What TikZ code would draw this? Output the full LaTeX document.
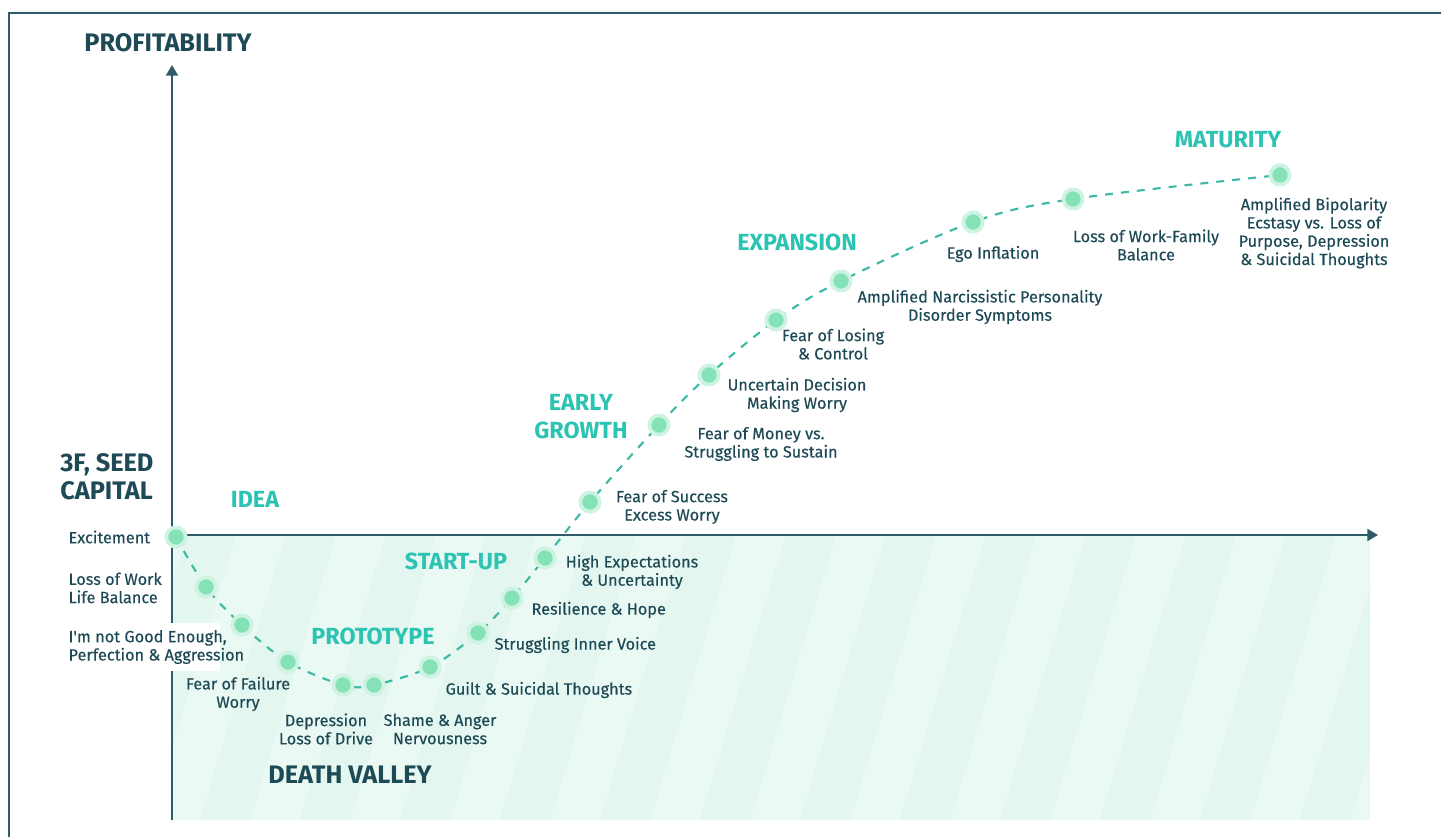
\documentclass[tikz,border=0pt]{standalone}
\usepackage{fontspec}
\setmainfont{Fira Sans}
\newfontfamily\vcbody{Fira Sans}[FakeBold=0.35]
\usepackage{xcolor}
\definecolor{vcink}{HTML}{1E4A56}
\definecolor{vcframe}{HTML}{2E5C68}
\definecolor{vcteal}{HTML}{2CC3B3}
\definecolor{vcdot}{HTML}{84E2B6}
\definecolor{vccurve}{HTML}{3DB9A6}
\definecolor{vcvalley}{HTML}{EAF9F4}
\definecolor{vcstripe}{HTML}{E3F6EF}
\usepackage{tikz}
\usetikzlibrary{arrows.meta,backgrounds}
\tikzset{
  vcdot/.style   ={circle, fill=vcdot, draw=vcdot!40!white, line width=2.8pt,
                   minimum size=14.5pt, inner sep=0pt},
  vclbl/.style   ={font=\vcbody\fontsize{12.2}{13.7}\selectfont, text=vcink, align=center,
                   inner sep=1pt},
  vcstage/.style ={font=\fontsize{17.5}{21}\selectfont\bfseries, text=vcteal,
                   align=center, inner sep=0pt},
  vchead/.style  ={font=\fontsize{19}{21}\selectfont\bfseries, text=vcink,
                   align=left, inner sep=0pt},
  vcaxis/.style  ={-{Triangle[length=8pt,width=9pt]}, line width=1.4pt, draw=vcframe},
  vccurve/.style ={line width=1.6pt, draw=vccurve, dash pattern=on 6pt off 6pt},
}

\begin{document}
\begin{tikzpicture}[x=0.75pt, y=-0.75pt]
  \useasboundingbox (0,0) rectangle (1441,837);
  % outer frame, open on the right and at the bottom
  \draw[vcframe, line width=1.6pt] (1441,13) -- (9,13) -- (9,837);

  % axes
  \coordinate (ybot) at (172,820);
  \coordinate (ytop) at (172,65);
  \coordinate (xorg) at (172,535);
  \coordinate (xend) at (1378,535);

  % emotional milestones along the curve
  \node[vcdot] (d1)  at (176,537) {};
  \node[vcdot] (d2)  at (206,587) {};
  \node[vcdot] (d3)  at (242,625) {};
  \node[vcdot] (d4)  at (288,662) {};
  \node[vcdot] (d5)  at (343,685) {};
  \node[vcdot] (d6)  at (374,685) {};
  \node[vcdot] (d7)  at (430,667) {};
  \node[vcdot] (d8)  at (478,633) {};
  \node[vcdot] (d9)  at (512,598) {};
  \node[vcdot] (d10) at (545,558) {};
  \node[vcdot] (d11) at (590,502) {};
  \node[vcdot] (d12) at (659,425) {};
  \node[vcdot] (d13) at (709,375) {};
  \node[vcdot] (d14) at (776,320) {};
  \node[vcdot] (d15) at (841,281) {};
  \node[vcdot] (d16) at (973,222) {};
  \node[vcdot] (d17) at (1073,199) {};
  \node[vcdot] (d18) at (1280,175) {};

  \node[vchead] (yname) at (168,43) {PROFITABILITY};
  \node[vchead, anchor=west] (seed) at (60,477) {3F, SEED\\CAPITAL};
  \node[vchead] (valley) at (350,775) {DEATH VALLEY};

  % stages
  \node[vcstage] (idea)   at (255,499) {IDEA};
  \node[vcstage] (proto)  at (373,636) {PROTOTYPE};
  \node[vcstage] (start)  at (456,561) {START-UP};
  \node[vcstage] (early)  at (581,417) {EARLY\\GROWTH};
  \node[vcstage] (expand) at (797,242) {EXPANSION};
  \node[vcstage] (mature) at (1228,140) {MATURITY};

  % feelings at each milestone
  \node[vclbl, anchor=west] (l1) at (67,537) {Excitement};
  \node[vclbl, anchor=west, align=left] (l2) at (67,588) {Loss of Work\\Life Balance};
  \node[vclbl, anchor=west, align=left] (l3) at (67,647)
       {I'm not Good Enough,\\Perfection \& Aggression};
  \node[vclbl] (l4)  at (238,694) {Fear of Failure\\Worry};
  \node[vclbl] (l5)  at (326,729) {Depression\\Loss of Drive};
  \node[vclbl] (l6)  at (440,729) {Shame \& Anger\\Nervousness};
  \node[vclbl, anchor=west] (l7) at (444,690) {Guilt \& Suicidal Thoughts};
  \node[vclbl, anchor=west] (l8) at (493,645) {Struggling Inner Voice};
  \node[vclbl, anchor=west] (l9) at (530,610) {Resilience \& Hope};
  \node[vclbl] (l10) at (632,572) {High Expectations\\\& Uncertainty};
  \node[vclbl] (l11) at (672,507) {Fear of Success\\Excess Worry};
  \node[vclbl] (l12) at (761,444) {Fear of Money vs.\\Struggling to Sustain};
  \node[vclbl] (l13) at (797,395) {Uncertain Decision\\Making Worry};
  \node[vclbl] (l14) at (833,344) {Fear of Losing\\\& Control};
  \node[vclbl] (l15) at (980,307) {Amplified Narcissistic Personality\\Disorder Symptoms};
  \node[vclbl] (l16) at (993,254) {Ego Inflation};
  \node[vclbl] (l17) at (1146,245) {Loss of Work-Family\\Balance};
  \node[vclbl] (l18) at (1314,233) {Amplified Bipolarity\\Ecstasy vs. Loss of\\Purpose, Depression\\\& Suicidal Thoughts};

  \begin{scope}[on background layer]
    % striped valley below the break-even line
    \begin{scope}
      \clip (xorg) rectangle (1370,820);
      \fill[vcvalley] (xorg) rectangle (1370,820);
      \foreach \x in {0,100,...,1400}
        \fill[vcstripe] (\x,820) -- ({\x+50},820) -- ({\x+136},535) -- ({\x+86},535) -- cycle;
    \end{scope}
    \draw[vcaxis] (ybot) -- (ytop);
    \draw[vcaxis] (xorg) -- (xend);
    % white patch behind the long label, hides the axis there
    \fill[white] (62,623) rectangle (220,671);
    \draw[vccurve] plot[smooth, tension=0.55] coordinates
      {(d1.center) (d2.center) (d3.center) (d4.center) (d5.center) (d6.center)
       (d7.center) (d8.center) (d9.center) (d10.center) (d11.center) (d12.center)
       (d13.center) (d14.center) (d15.center) (d16.center) (d17.center) (d18.center)};
  \end{scope}
\end{tikzpicture}
\end{document}
